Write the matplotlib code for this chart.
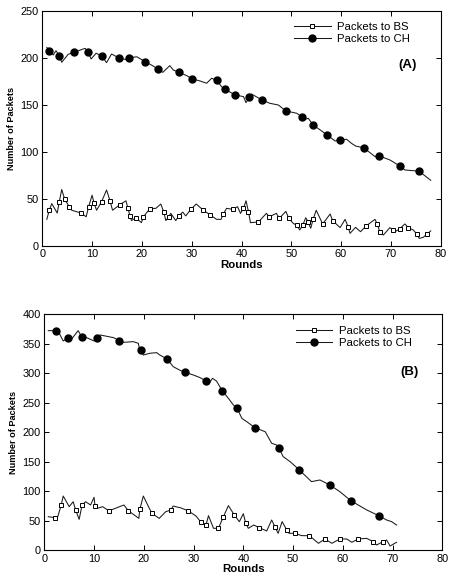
import matplotlib
matplotlib.use("Agg")
import matplotlib.pyplot as plt
from matplotlib.lines import Line2D

# ---------------- Panel (A) data ----------------
a_bs_x = [0.9, 1.4, 1.9, 3.0, 3.4, 3.9, 4.5, 5.4, 5.9, 7.8, 8.8, 9.3, 10.0, 10.4, 10.9, 11.9, 12.9, 13.6, 14.1, 15.6,
          16.8, 17.2, 17.6, 17.9, 18.8, 19.9, 20.3, 21.6, 22.8, 23.8, 24.4, 24.8, 25.4, 25.8, 26.8, 27.4, 28.2, 28.8, 29.9, 30.9,
          32.3, 33.7, 35.0, 35.9, 36.3, 37.0, 38.2, 39.2, 39.8, 40.4, 40.9, 41.4, 41.8, 43.4, 45.0, 45.6, 47.0, 47.6, 48.9, 49.5,
          50.4, 51.1, 51.7, 52.3, 52.9, 53.4, 53.9, 54.4, 55.0, 56.3, 57.8, 58.3, 59.8, 60.8, 61.4, 61.8, 62.9, 63.9, 65.1, 66.8,
          67.3, 67.8, 68.5, 69.8, 70.5, 71.1, 71.8, 72.8, 73.5, 74.5, 75.2, 75.7, 76.5, 77.2, 78.0]
a_bs_y = [28.3, 38, 45, 35, 47, 60, 49.6, 41.8, 38, 35, 31, 41.8, 54, 45.3, 38, 47, 59.5, 48, 38, 44,
          48, 40, 32, 27, 30, 24.8, 31, 39.7, 40, 44.6, 36, 27, 31, 34.7, 27, 32, 36, 32, 39.3, 44.6,
          38.2, 33, 28.3, 28.3, 33.6, 40, 39, 41.8, 34.7, 40, 48, 36.5, 24.8, 25.5, 34.7, 31, 34.7, 29.4, 36.8, 29.4,
          24, 22, 17, 22.3, 30, 25.5, 18.8, 28.7, 38, 23.4, 34, 27, 19.5, 28.3, 20.5, 13.5, 19.8, 15.2, 21.6, 28.3,
          23, 14.5, 11.7, 19.5, 17, 16, 18.4, 23.4, 19.5, 17, 12.7, 8.1, 9.2, 12.4, 16]
a_bs_mx = [1.4, 3.4, 4.5, 5.4, 7.8, 9.3, 10.4, 11.9, 13.6, 15.6, 17.2, 17.6, 18.8, 20.3, 21.6, 24.4, 25.4, 27.4, 29.9, 32.3,
           33.7, 36.3, 38.2, 40.4, 41.4, 43.4, 45.6, 47.6, 49.5, 51.1, 52.3, 53.4, 54.4, 56.3, 58.3, 61.4, 65.1, 67.3, 67.8, 70.5,
           71.8, 73.5, 75.2, 77.2]
a_bs_my = [38, 47, 49.6, 41.8, 35, 41.8, 45.3, 47, 48, 44, 40, 32, 30, 31, 39.7, 36, 31, 32, 39.3, 38.2,
           33, 33.6, 39, 40, 36.5, 25.5, 31, 29.4, 29.4, 22, 22.3, 25.5, 28.7, 23.4, 27, 20.5, 21.6, 23, 14.5, 17,
           18.4, 19.5, 12.7, 12.4]

a_ch_x = [0.9, 1.4, 2.2, 2.75, 3.4, 3.9, 5.2, 6.4, 8.6, 9.2, 9.8, 10.8, 11.9, 12.9, 13.9, 15.3, 17.0, 17.5, 19.0, 20.6,
          22.0, 23.2, 24.2, 25.6, 26.3, 27.4, 29.0, 30.1, 31.7, 33.0, 34.0, 35.0, 36.0, 36.7, 38.7, 40.4, 40.9, 41.6, 42.0, 44.1,
          45.7, 47.4, 48.9, 51.1, 52.1, 52.4, 53.4, 54.4, 55.8, 57.1, 58.8, 59.8, 61.1, 62.1, 63.0, 64.5, 66.8, 67.7, 69.8, 71.8,
          72.8, 74.5, 75.6, 78.0]
a_ch_y = [211, 207.5, 203, 207.5, 202.2, 195.2, 203.7, 205.9, 210, 206.2, 198.7, 204.8, 202, 194.8, 204, 200.1, 197.7, 200.1, 201, 195.9,
          192, 188.1, 184.5, 191.6, 187, 184.6, 181, 177.5, 175.3, 172.9, 178.2, 176.1, 169.3, 166.5, 160.5, 158.7, 152.3, 158, 161.5, 155.2,
          151.6, 149.8, 143.5, 141, 137.4, 133.9, 135.7, 128.6, 123.3, 118.3, 111.6, 112.6, 113.4, 109, 106, 104.5, 95, 95.6, 91.4, 85,
          80.8, 80, 79.7, 69.8]
a_ch_mx = [1.4, 3.4, 6.4, 9.2, 11.9, 15.3, 17.5, 20.6, 23.2, 27.4, 30.1, 35.0, 36.7, 38.7, 41.6, 44.1, 48.9, 52.1, 54.4, 57.1,
           59.8, 64.5, 67.7, 71.8, 75.6]
a_ch_my = [207.5, 202.2, 205.9, 206.2, 202, 200.1, 200.1, 195.9, 188.1, 184.6, 177.5, 176.1, 166.5, 160.5, 158, 155.2, 143.5, 137.4, 128.6, 118.3,
           112.6, 104.5, 95.6, 85, 79.7]

# ---------------- Panel (B) data ----------------
b_bs_x = [0.8, 2.15, 2.6, 3.4, 3.8, 5.0, 5.8, 6.3, 7.0, 7.6, 8.3, 9.3, 10.0, 10.2, 10.7, 11.7, 13.0, 16.0, 16.9, 19.0,
          19.2, 19.9, 21.6, 23.1, 24.4, 25.4, 25.9, 27.4, 28.9, 30.5, 31.4, 32.5, 33.0, 34.0, 35.0, 36.0, 37.0, 38.2, 39.2, 40.0,
          40.5, 41.0, 42.1, 43.2, 44.7, 45.7, 46.4, 47.0, 47.8, 48.7, 49.2, 50.4, 51.7, 53.3, 55.1, 56.4, 57.8, 59.4, 60.8, 61.8,
          63.1, 64.8, 66.1, 66.8, 68.1, 68.8, 69.5, 70.8]
b_bs_y = [57, 55.3, 54.2, 76.8, 92, 74, 82.4, 68.3, 52.5, 76.8, 82.4, 76.8, 89.8, 75, 71.2, 74, 67, 76.8, 67, 54.2,
          69.5, 92, 62.7, 54.2, 65.4, 68.3, 75, 72, 67, 58, 48.5, 42.9, 58.8, 37.3, 37.3, 57, 75.7, 59.8, 48.5, 62,
          45.8, 37.3, 42.9, 38.3, 32.8, 51.4, 39, 28.8, 48.6, 35, 28.8, 28.8, 24.9, 24.7, 11.9, 19.2, 11.9, 19.2, 19.2, 13.6,
          19.2, 20.3, 14.7, 9, 14.7, 17.5, 7.3, 13.6]
b_bs_mx = [2.15, 3.4, 6.3, 7.6, 10.2, 13.0, 16.9, 19.2, 21.6, 25.4, 28.9, 31.4, 32.5, 35.0, 36.0, 38.2, 40.5, 43.2, 46.4, 48.7,
           50.4, 53.3, 56.4, 59.4, 63.1, 66.1, 68.1]
b_bs_my = [55.3, 76.8, 68.3, 76.8, 75, 67, 67, 69.5, 62.7, 68.3, 67, 48.5, 42.9, 37.3, 57, 59.8, 45.8, 38.3, 39, 35,
           28.8, 24.7, 19.2, 19.2, 19.2, 14.7, 14.7]

b_ch_x = [0.8, 2.3, 3.0, 3.8, 4.7, 5.5, 6.8, 7.5, 8.5, 10.0, 10.5, 11.2, 13.9, 15.1, 15.9, 17.9, 18.9, 19.1, 19.4, 19.9,
          21.2, 22.6, 23.2, 24.7, 25.9, 27.3, 28.3, 30.0, 31.3, 32.4, 33.0, 33.8, 34.6, 35.8, 37.0, 38.0, 38.7, 39.7, 40.7, 42.3,
          44.4, 45.7, 46.7, 47.2, 48.0, 49.4, 51.2, 53.7, 55.4, 57.4, 59.4, 61.6, 64.8, 67.2, 68.8, 69.8, 70.8]
b_ch_y = [372.3, 372.3, 367.8, 354.8, 359.9, 358.2, 372.3, 362.1, 360.5, 354.8, 359.3, 365, 360.5, 355.4, 352.5, 353.7, 350.8, 342.4, 340, 331,
          334, 335, 331, 324.3, 311.3, 305, 301.7, 297, 292.7, 287.6, 281.4, 291.5, 287, 270, 257.6, 246.3, 241.8, 223.7, 218, 207.9,
          201, 181.4, 178.5, 172.9, 158.8, 150.3, 136.7, 116.4, 119.2, 110.7, 99.4, 84.2, 68.4, 58.8, 51.4, 48.6, 42.9]
b_ch_mx = [2.3, 4.7, 7.5, 10.5, 15.1, 19.4, 24.7, 28.3, 32.4, 35.8, 38.7, 42.3, 47.2, 51.2, 57.4, 61.6, 67.2]
b_ch_my = [372.3, 359.9, 362.1, 359.3, 355.4, 340, 324.3, 301.7, 287.6, 270, 241.8, 207.9, 172.9, 136.7, 110.7, 84.2, 58.8]

x_ticks = [0, 10, 20, 30, 40, 50, 60, 70, 80]
a_y_ticks = [0, 50, 100, 150, 200, 250]
b_y_ticks = [0, 50, 100, 150, 200, 250, 300, 350, 400]
series_labels = ["Packets to BS", "Packets to CH"]
x_label = "Rounds"
y_label = "Number of Packets"
panel_tags = ["(A)", "(B)"]

plt.rcParams['font.family'] = ['Liberation Sans', 'DejaVu Sans']

LINE_C = '#1a1a1a'
LW = 0.75
bs_style = dict(marker='s', markersize=2.8, markerfacecolor='white', markeredgecolor='black', markeredgewidth=0.7)
ch_style = dict(marker='o', markersize=5.0, markerfacecolor='black', markeredgecolor='black')

fig = plt.figure(figsize=(4.54, 5.78), dpi=100)
ax1 = fig.add_axes([0.0932, 0.5744, 0.8775, 0.4071])
ax2 = fig.add_axes([0.0976, 0.0479, 0.8767, 0.4083])


def draw(ax, bsx, bsy, bsmx, bsmy, chx, chy, chmx, chmy, yticks, ymax, tag, tag_xy):
    ax.plot(bsx, bsy, color=LINE_C, lw=LW)
    ax.plot(bsmx, bsmy, ls='none', **bs_style)
    ax.plot(chx, chy, color=LINE_C, lw=LW)
    ax.plot(chmx, chmy, ls='none', **ch_style)
    ax.set_xlim(0, 80)
    ax.set_ylim(0, ymax)
    ax.set_xticks(x_ticks)
    ax.set_yticks(yticks)
    ax.tick_params(direction='in', length=3.5, width=0.7, labelsize=7.9, top=True, right=True, pad=2.5)
    for s in ax.spines.values():
        s.set_linewidth(0.8)
    ax.set_xlabel(x_label, fontsize=8.2, fontweight='bold', labelpad=0.5)
    ax.set_ylabel(y_label, fontsize=6.6, fontweight='bold', labelpad=3.5)
    handles = [Line2D([], [], color=LINE_C, lw=LW, **bs_style),
               Line2D([], [], color=LINE_C, lw=LW, **ch_style)]
    ax.legend(handles, series_labels, loc='upper left', bbox_to_anchor=(0.632, 0.95),
              frameon=False, fontsize=8.2, handlelength=3.2, handletextpad=0.6,
              labelspacing=0.15, borderpad=0, borderaxespad=0)
    ax.text(tag_xy[0], tag_xy[1], tag, fontsize=9.5, fontweight='bold', ha='center', va='center')


draw(ax1, a_bs_x, a_bs_y, a_bs_mx, a_bs_my, a_ch_x, a_ch_y, a_ch_mx, a_ch_my, a_y_ticks, 250, panel_tags[0], (73.4, 192))
draw(ax2, b_bs_x, b_bs_y, b_bs_mx, b_bs_my, b_ch_x, b_ch_y, b_ch_mx, b_ch_my, b_y_ticks, 400, panel_tags[1], (73.4, 301.7))

fig.savefig('out.png', dpi=100)
